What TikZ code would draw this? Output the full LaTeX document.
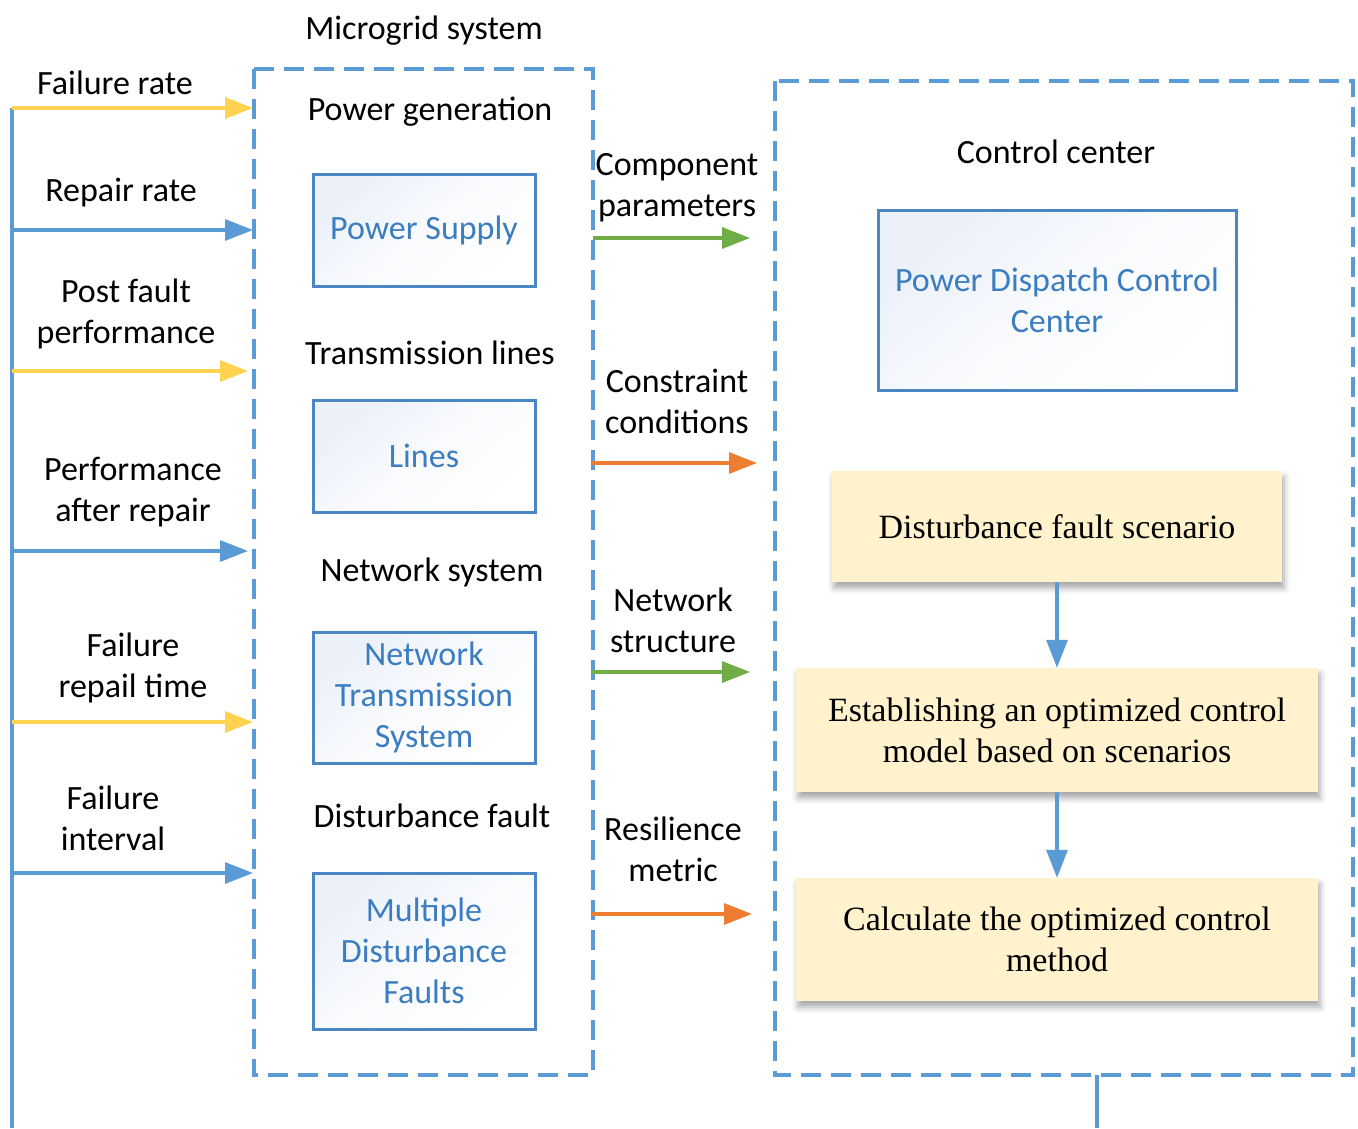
\documentclass[tikz,border=0pt]{standalone}
\usepackage{fontspec}
\setmainfont{Carlito}
\newfontfamily\serifface{Liberation Serif}
\usetikzlibrary{arrows.meta,shadows.blur}
\definecolor{lineblue}{HTML}{5B9BD5}
\definecolor{boxblue}{HTML}{4A86C4}
\definecolor{textblue}{HTML}{3B7DC0}
\definecolor{arrowyellow}{HTML}{FFD24F}
\definecolor{arrowgreen}{HTML}{70AD47}
\definecolor{arroworange}{HTML}{ED7D31}
\definecolor{stepfill}{HTML}{FFF2CC}
\definecolor{gradblue}{HTML}{EBF0F9}
\tikzset{
  label/.style={font=\fontsize{34}{41}\selectfont, align=center, inner sep=0pt, yshift=-2.5pt},
  frame/.style={draw=lineblue, line width=3.2pt, dash pattern=on 20pt off 10pt},
  compbox/.style={draw=boxblue, line width=3pt, inner sep=0pt,
    top color=gradblue, bottom color=white, middle color=white!70!gradblue, shading angle=40,
    font=\fontsize{34}{41}\selectfont, text=textblue, align=center},
  stepbox/.style={fill=stepfill, inner sep=0pt, align=center,
    font=\serifface\fontsize{34}{41}\selectfont,
    blur shadow={shadow xshift=2pt, shadow yshift=-6pt, shadow blur radius=6pt,
      shadow opacity=35, shadow blur extra rounding=0pt}},
  feed/.style={line width=3.2pt, -{Triangle[length=28pt,width=21pt]}},
}
\begin{document}
\begin{tikzpicture}[x=1pt,y=-1pt]
\useasboundingbox (0,0) rectangle (1358,1128);

% microgrid system frame
\draw[frame] (254,69) rectangle (593,1075);
\node[label] (mgtitle) at (424,28) {Microgrid system};
\node[label] (pgtitle) at (430,109) {Power generation};
\node[label] (tltitle) at (430,350) {Transmission lines};
\node[label] (nstitle) at (432,570) {Network system};
\node[label] (dftitle) at (432,813) {Disturbance fault};

\node[compbox, minimum width=222pt, minimum height=112pt] (ps) at (424,230) {Power Supply};
\node[compbox, minimum width=222pt, minimum height=112pt] (ln) at (424,456) {Lines};
\node[compbox, minimum width=222pt, minimum height=131pt] (nts) at (424,697.5) {Network\\Transmission\\System};
\node[compbox, minimum width=222pt, minimum height=156pt] (mdf) at (424,951) {Multiple\\Disturbance\\Faults};

% control center frame
\draw[frame] (775,81) rectangle (1353,1075);
\node[label] (cctitle) at (1056,149) {Control center};
\node[compbox, minimum width=358pt, minimum height=180pt] (pdcc) at (1057,300) {Power Dispatch Control\\Center};

\node[stepbox, minimum width=450pt, minimum height=111pt] (dfs) at (1057,526.5) {Disturbance fault scenario};
\node[stepbox, minimum width=522pt, minimum height=124pt] (eoc) at (1057,730) {Establishing an optimized control\\model based on scenarios};
\node[stepbox, minimum width=522pt, minimum height=123pt] (com) at (1057,939.5) {Calculate the optimized control\\method};

\draw[feed, draw=lineblue] (dfs.south) -- (eoc.north);
\draw[feed, draw=lineblue] (eoc.south) -- (com.north);

\coordinate (ccout) at (1097,1075);
\coordinate (ccend) at (1097,1128);
\draw[lineblue, line width=3.2pt] (ccout) -- (ccend);

% input parameters on the left
\coordinate (busTop) at (12,108);
\coordinate (busBot) at (12,1128);
\draw[lineblue, line width=3.2pt] (busTop) -- (busBot);

\coordinate (s1) at (12,108);  \coordinate (e1) at (253,108);
\coordinate (s2) at (12,230);  \coordinate (e2) at (253,230);
\coordinate (s3) at (12,371);  \coordinate (e3) at (248,371);
\coordinate (s4) at (12,551);  \coordinate (e4) at (248,551);
\coordinate (s5) at (12,722);  \coordinate (e5) at (253,722);
\coordinate (s6) at (12,873);  \coordinate (e6) at (253,873);
\draw[feed, draw=arrowyellow] (s1) -- (e1);
\draw[feed, draw=lineblue] (s2) -- (e2);
\draw[feed, draw=arrowyellow] (s3) -- (e3);
\draw[feed, draw=lineblue] (s4) -- (e4);
\draw[feed, draw=arrowyellow] (s5) -- (e5);
\draw[feed, draw=lineblue] (s6) -- (e6);

\node[label] (l1) at (115,80) {Failure rate};
\node[label] (l2) at (121,190) {Repair rate};
\node[label] (l3) at (126,311.5) {Post fault\\performance};
\node[label] (l4) at (133,489.5) {Performance\\after repair};
\node[label] (l5) at (133,665.5) {Failure\\repail time};
\node[label] (l6) at (113,815.5) {Failure\\interval};

% information passed to the control center
\coordinate (m1) at (593,238); \coordinate (n1) at (750,238);
\coordinate (m2) at (592,463); \coordinate (n2) at (757,463);
\coordinate (m3) at (592,672); \coordinate (n3) at (750,672);
\coordinate (m4) at (592,914); \coordinate (n4) at (752,914);
\draw[feed, draw=arrowgreen] (m1) -- (n1);
\draw[feed, draw=arroworange] (m2) -- (n2);
\draw[feed, draw=arrowgreen] (m3) -- (n3);
\draw[feed, draw=arroworange] (m4) -- (n4);

\node[label] (k1) at (677,185.5) {Component\\parameters};
\node[label] (k2) at (677,398.5) {Constraint\\conditions};
\node[label] (k3) at (673,617.5) {Network\\structure};
\node[label] (k4) at (673,846.5) {Resilience\\metric};
\end{tikzpicture}
\end{document}
